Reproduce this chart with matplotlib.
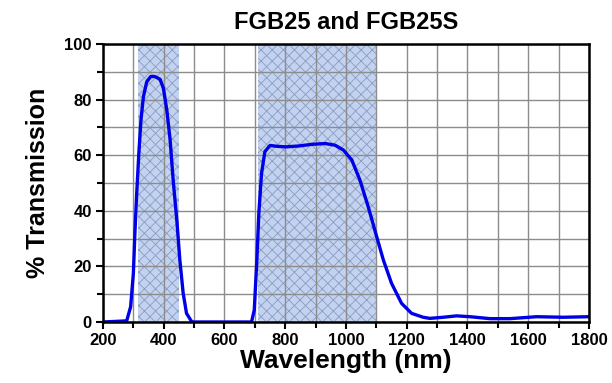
import numpy as np
import matplotlib
matplotlib.use('Agg')
import matplotlib.pyplot as plt

plt.rcParams['font.family'] = ['Liberation Sans', 'DejaVu Sans']
plt.rcParams['hatch.color'] = '#8a9cc4'
plt.rcParams['hatch.linewidth'] = 0.6

# transmission curve
wavelength = [200, 278, 291, 300, 305, 311, 318, 325, 333, 344, 357, 371, 388,
              399, 410, 421, 431, 443, 453, 464, 475, 492, 500,
              689, 698, 706, 713, 722, 733, 750, 772, 801, 843, 887, 931,
              964, 991, 1019, 1046, 1073, 1101, 1123, 1150, 1183, 1216, 1254,
              1276, 1320, 1364, 1408, 1474, 1540, 1628, 1715, 1800]
transmission = [0, 0.4, 5.5, 17.5, 31.9, 46.3, 60.7, 72.7, 81, 86.4, 88.3, 88.3, 87.3,
                84, 76.3, 65.5, 51, 36.7, 22.3, 10.3, 3.1, 0.1, 0,
                0, 4.3, 21, 39, 53.5, 61.3, 63.5, 63.2, 63, 63.3, 63.9, 64.2,
                63.6, 61.9, 58.3, 51, 41.5, 30.7, 22.3, 13.9, 6.7, 3.1, 1.7,
                1.3, 1.7, 2.2, 1.9, 1.2, 1.2, 1.9, 1.7, 1.9]

# shaded pass bands (nm)
band_starts = [315, 710]
band_ends = [450, 1100]

fig = plt.figure(figsize=(6.12, 3.83), dpi=100)
ax = fig.add_axes([0.1683, 0.1593, 0.7941, 0.7258])

for b0, b1 in zip(band_starts, band_ends):
    ax.axvspan(b0, b1, facecolor='#c2d2ef', edgecolor='#8a9cc4', hatch='xxx',
               linewidth=0, zorder=0)

ax.plot(wavelength, transmission, color='#0000e6', linewidth=2.4, zorder=3,
        solid_joinstyle='round', solid_capstyle='round')

ax.set_xlim(200, 1800)
ax.set_ylim(0, 100)
ax.set_xticks(np.arange(200, 1801, 200))
ax.set_xticks(np.arange(200, 1801, 100), minor=True)
ax.set_yticks(np.arange(0, 101, 20))
ax.set_yticks(np.arange(0, 101, 10), minor=True)
ax.grid(which='both', color='#8c8c8c', linewidth=1.0, zorder=1)
ax.set_axisbelow(True)

ax.tick_params(which='both', direction='out', width=1.5, colors='black',
               labelsize=12)
ax.tick_params(which='major', length=5, pad=3)
ax.tick_params(which='minor', length=4)
for lab in ax.get_xticklabels() + ax.get_yticklabels():
    lab.set_fontweight('bold')
for sp in ax.spines.values():
    sp.set_linewidth(1.8)
    sp.set_zorder(4)

ax.set_xlabel('Wavelength (nm)', fontsize=19, fontweight='bold', labelpad=1)
ax.set_ylabel('% Transmission', fontsize=18, fontweight='bold', labelpad=10)
ax.set_title('FGB25 and FGB25S', fontsize=17, fontweight='bold', pad=11)

fig.savefig('out.png', dpi=100)
